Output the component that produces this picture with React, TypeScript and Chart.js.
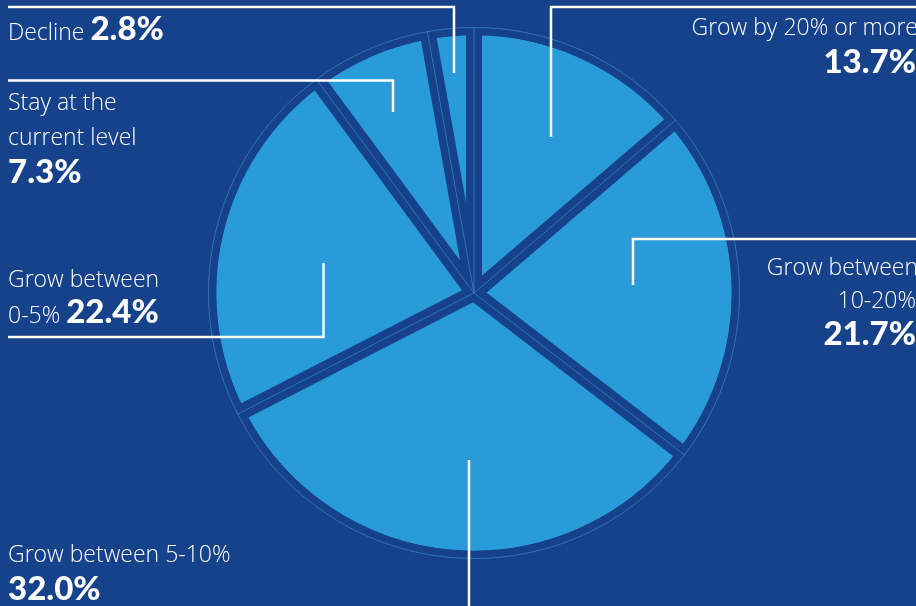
import React, { useEffect, useRef } from "react";
import { Chart, registerables } from "chart.js";

Chart.register(...registerables);

// ---- data ----
const categories = [
  "Grow by 20% or more",
  "Grow between 10-20%",
  "Grow between 5-10%",
  "Grow between 0-5%",
  "Stay at the current level",
  "Decline",
];
const shares = [13.7, 21.7, 32.0, 22.4, 7.3, 2.8];
const shareLabels = ["13.7%", "21.7%", "32.0%", "22.4%", "7.3%", "2.8%"];

// ---- style ----
const BG = "#15428a";
const SLICE = "#2a9bd9";
const RIM = "rgba(72,150,222,0.55)";
const W = 916;
const H = 606;
const LIGHT = "'Open Sans', sans-serif";
const BOLD = "Lato, 'Open Sans', sans-serif";

const rimPlugin = {
  id: "rim",
  afterDatasetsDraw(chart: any) {
    const meta = chart.getDatasetMeta(0);
    const arcs = meta.data;
    if (!arcs.length) return;
    const { x, y, outerRadius } = arcs[0].getProps(["x", "y", "outerRadius"], true);
    const ctx = chart.ctx;
    ctx.save();
    ctx.strokeStyle = BG;
    ctx.lineWidth = 4;
    ctx.beginPath();
    ctx.arc(x, y, outerRadius - 6, 0, Math.PI * 2);
    ctx.stroke();
    ctx.strokeStyle = RIM;
    ctx.lineWidth = 1;
    ctx.beginPath();
    ctx.arc(x, y, outerRadius - 0.5, 0, Math.PI * 2);
    ctx.stroke();
    arcs.forEach((arc: any) => {
      const { startAngle } = arc.getProps(["startAngle"], true);
      ctx.beginPath();
      ctx.moveTo(x, y);
      ctx.lineTo(x + Math.cos(startAngle) * outerRadius, y + Math.sin(startAngle) * outerRadius);
      ctx.stroke();
    });
    ctx.restore();
  },
};

const lightStyle: React.CSSProperties = { fontFamily: LIGHT, fontWeight: 300, fontSize: 23 };
const boldStyle: React.CSSProperties = { fontFamily: BOLD, fontWeight: 900, fontSize: 33 };

export default function App() {
  const ref = useRef<HTMLCanvasElement | null>(null);

  useEffect(() => {
    if (!ref.current) return;
    const chart = new Chart(ref.current, {
      type: "pie",
      data: {
        labels: categories,
        datasets: [
          {
            data: shares,
            backgroundColor: SLICE,
            borderColor: BG,
            borderWidth: 8,
            borderAlign: "inner",
          } as any,
        ],
      },
      options: {
        animation: false,
        responsive: false,
        devicePixelRatio: 1,
        radius: 266,
        rotation: 0,
        layout: { padding: { left: 32, right: 0, top: 0, bottom: 20 } },
        plugins: { legend: { display: false }, tooltip: { enabled: false } },
      } as any,
      plugins: [rimPlugin],
    });
    return () => chart.destroy();
  }, []);

  const line = { stroke: "#ffffff", strokeWidth: 2.5, fill: "none" } as const;

  return (
    <div style={{ position: "fixed", left: 0, top: 0, width: W, height: H, background: BG, overflow: "hidden" }}>
      <canvas ref={ref} width={W} height={H} style={{ position: "absolute", left: 0, top: 0 }} />
      <svg width={W} height={H} style={{ position: "absolute", left: 0, top: 0 }}>
        {/* leader lines */}
        <polyline points="8,7 454,7 454,73" {...line} />
        <polyline points="8,80.5 393,80.5 393,112" {...line} />
        <polyline points="551,137 551,7 916,7" {...line} />
        <polyline points="8,337 323.5,337 323.5,263" {...line} />
        <polyline points="633,285 633,239 916,239" {...line} />
        <polyline points="469,460 469,606" {...line} />

        <g fill="#ffffff">
          {/* Decline */}
          <text x={8} y={40}>
            <tspan style={lightStyle}>{"Decline "}</tspan>
            <tspan style={boldStyle}>{shareLabels[5]}</tspan>
          </text>
          {/* Stay */}
          <text x={8} y={110} style={lightStyle}>Stay at the</text>
          <text x={8} y={145} style={lightStyle}>current level</text>
          <text x={8} y={183} style={boldStyle}>{shareLabels[4]}</text>
          {/* 0-5 */}
          <text x={8} y={287} style={lightStyle}>Grow between</text>
          <text x={8} y={323}>
            <tspan style={lightStyle}>{"0-5% "}</tspan>
            <tspan style={boldStyle}>{shareLabels[3]}</tspan>
          </text>
          {/* 5-10 */}
          <text x={8} y={562} style={lightStyle}>Grow between 5-10%</text>
          <text x={8} y={600} style={boldStyle}>{shareLabels[2]}</text>
          {/* 20+ */}
          <text x={918} y={35} textAnchor="end" style={lightStyle}>Grow by 20% or more</text>
          <text x={916} y={73} textAnchor="end" style={boldStyle}>{shareLabels[0]}</text>
          {/* 10-20 */}
          <text x={918} y={275} textAnchor="end" style={lightStyle}>Grow between</text>
          <text x={916} y={308} textAnchor="end" style={lightStyle}>10-20%</text>
          <text x={916} y={345} textAnchor="end" style={boldStyle}>{shareLabels[1]}</text>
        </g>
      </svg>
    </div>
  );
}
